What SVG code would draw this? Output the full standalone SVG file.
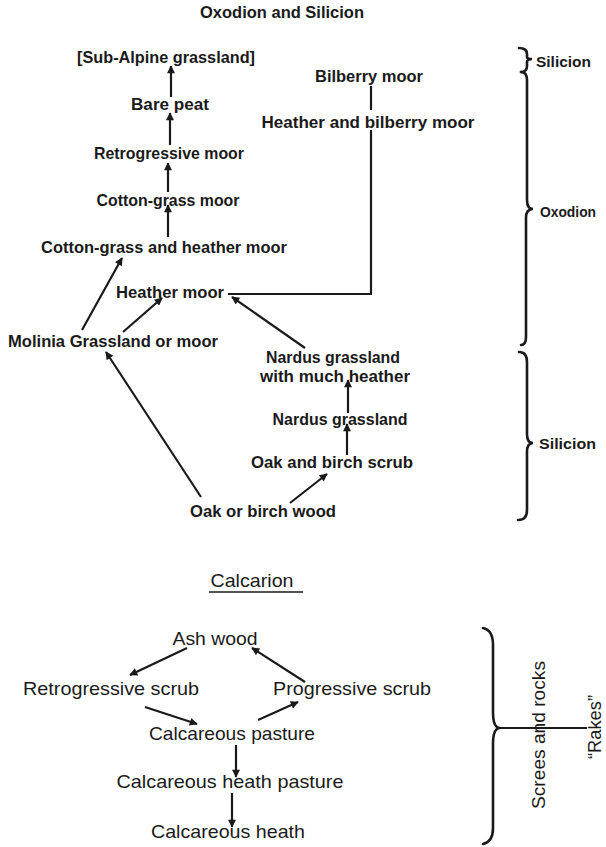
<svg xmlns="http://www.w3.org/2000/svg" width="606" height="847" viewBox="0 0 606 847">
<style>
text{fill:#1a1a1a;text-anchor:middle}
.t{font-family:"Liberation Sans",Arial,sans-serif;font-weight:bold;font-size:16.5px}
.s{font-family:"Liberation Sans",Arial,sans-serif;font-weight:bold;font-size:15px}
.c{font-family:"Liberation Sans",Arial,sans-serif;font-size:18.5px}
.l{text-anchor:start}
.e{stroke:#1a1a1a;stroke-width:2.2;fill:none}
.a{marker-end:url(#ah)}
.b{stroke:#1a1a1a;stroke-width:2.6;fill:none;stroke-linecap:round}
</style>
<defs>
<marker id="ah" viewBox="0 0 10 10" refX="9" refY="5" markerWidth="11" markerHeight="8" markerUnits="userSpaceOnUse" orient="auto">
<path d="M0,0 L10,5 L0,10 z" fill="#1a1a1a"/>
</marker>
</defs>
<rect width="606" height="847" fill="#fff"/>
<text class="t" x="282" y="18" textLength="164" lengthAdjust="spacingAndGlyphs">Oxodion and Silicion</text>
<g id="subalpine"><text class="t" x="166" y="63" textLength="178" lengthAdjust="spacingAndGlyphs">[Sub-Alpine grassland]</text></g>
<g id="barepeat"><text class="t" x="170" y="110" textLength="78" lengthAdjust="spacingAndGlyphs">Bare peat</text></g>
<g id="retromoor"><text class="t" x="169" y="159" textLength="150" lengthAdjust="spacingAndGlyphs">Retrogressive moor</text></g>
<g id="cottonmoor"><text class="t" x="168" y="206" textLength="143" lengthAdjust="spacingAndGlyphs">Cotton-grass moor</text></g>
<g id="cottonheather"><text class="t" x="164" y="253" textLength="246" lengthAdjust="spacingAndGlyphs">Cotton-grass and heather moor</text></g>
<g id="bilberry"><text class="t" x="369" y="82" textLength="108" lengthAdjust="spacingAndGlyphs">Bilberry moor</text></g>
<g id="heatherbilberry"><text class="t" x="368" y="128" textLength="213" lengthAdjust="spacingAndGlyphs">Heather and bilberry moor</text></g>
<g id="heathermoor"><text class="t" x="170" y="298" textLength="108" lengthAdjust="spacingAndGlyphs">Heather moor</text></g>
<g id="molinia"><text class="t" x="113" y="347" textLength="210" lengthAdjust="spacingAndGlyphs">Molinia Grassland or moor</text></g>
<g id="nardusheather"><text class="t" x="333" y="363" textLength="134" lengthAdjust="spacingAndGlyphs">Nardus grassland</text><text class="t" x="335" y="382" textLength="150" lengthAdjust="spacingAndGlyphs">with much heather</text></g>
<g id="nardus"><text class="t" x="340" y="425" textLength="135" lengthAdjust="spacingAndGlyphs">Nardus grassland</text></g>
<g id="oakscrub"><text class="t" x="332" y="468" textLength="162" lengthAdjust="spacingAndGlyphs">Oak and birch scrub</text></g>
<g id="oakwood"><text class="t" x="263" y="517" textLength="146" lengthAdjust="spacingAndGlyphs">Oak or birch wood</text></g>
<g id="brace-silicion1"><path class="b" d="M519,48 Q527,48 527,54 L527,57 Q527,59 532,59 Q527,59 527,62 L527,66 Q527,72 521,72"/><text class="s l" x="536" y="67" textLength="55" lengthAdjust="spacingAndGlyphs">Silicion</text></g>
<g id="brace-oxodion"><path class="b" d="M521,72 Q527,72 527,80 L527,200 Q527,209 533,209 Q526,209 526,218 L526,337 Q526,345 521,345"/><text class="s l" x="540" y="217" textLength="56" lengthAdjust="spacingAndGlyphs">Oxodion</text></g>
<g id="brace-silicion2"><path class="b" d="M519,352 Q527,352 527,362 L527,434 Q527,443 533,443 Q527,443 527,452 L527,510 Q527,520 518,520"/><text class="s l" x="539" y="449" textLength="57" lengthAdjust="spacingAndGlyphs">Silicion</text></g>
<text class="c" x="252" y="587" textLength="83" lengthAdjust="spacingAndGlyphs">Calcarion</text>
<line x1="209" y1="592" x2="303" y2="592" stroke="#1a1a1a" stroke-width="1.5"/>
<g id="ashwood"><text class="c" x="215" y="645" textLength="85" lengthAdjust="spacingAndGlyphs">Ash wood</text></g>
<g id="retroscrub"><text class="c" x="111" y="695" textLength="176" lengthAdjust="spacingAndGlyphs">Retrogressive scrub</text></g>
<g id="progscrub"><text class="c" x="352" y="695" textLength="158" lengthAdjust="spacingAndGlyphs">Progressive scrub</text></g>
<g id="calcpasture"><text class="c" x="232" y="740" textLength="166" lengthAdjust="spacingAndGlyphs">Calcareous pasture</text></g>
<g id="calcheathpasture"><text class="c" x="230" y="788" textLength="227" lengthAdjust="spacingAndGlyphs">Calcareous heath pasture</text></g>
<g id="calcheath"><text class="c" x="228" y="838" textLength="154" lengthAdjust="spacingAndGlyphs">Calcareous heath</text></g>
<g id="brace-screes"><path class="b" d="M483,628 Q493,630 493,645 L493,712 Q493,728 500,728 Q493,728 493,744 L493,828 Q493,842 483,844"/><line x1="499" y1="728" x2="587" y2="728" stroke="#1a1a1a" stroke-width="2.2"/><text class="c" transform="translate(545,735) rotate(-90)" x="0" y="0" textLength="148" lengthAdjust="spacingAndGlyphs">Screes and rocks</text><text class="c" transform="translate(601,727) rotate(-90)" x="0" y="0" textLength="64" lengthAdjust="spacingAndGlyphs">“Rakes”</text></g>
<g id="connectors">
<line class="e a" x1="171" y1="97" x2="171" y2="66"/>
<line class="e a" x1="170" y1="145" x2="170" y2="113"/>
<line class="e a" x1="168" y1="192" x2="168" y2="163"/>
<line class="e a" x1="168" y1="237" x2="168" y2="205"/>
<line class="e a" x1="82" y1="330" x2="122" y2="258"/>
<line class="e a" x1="123" y1="332" x2="162" y2="298"/>
<line class="e a" x1="305" y1="348" x2="232" y2="297"/>
<line class="e a" x1="348" y1="413" x2="348" y2="380"/>
<line class="e a" x1="347" y1="455" x2="347" y2="424"/>
<line class="e a" x1="290" y1="503" x2="327" y2="474"/>
<line class="e a" x1="201" y1="497" x2="106" y2="352"/>
<line class="e" x1="371" y1="86" x2="371" y2="110"/>
<polyline class="e" points="371,130 371,294 228,294"/>
<line class="e a" x1="187" y1="648" x2="130" y2="675"/>
<line class="e a" x1="305" y1="682" x2="252" y2="648"/>
<line class="e a" x1="145" y1="707" x2="197" y2="724"/>
<line class="e a" x1="258" y1="720" x2="298" y2="702"/>
<line class="e a" x1="236" y1="745" x2="236" y2="777"/>
<line class="e a" x1="232" y1="793" x2="232" y2="827"/>
</g>
</svg>
